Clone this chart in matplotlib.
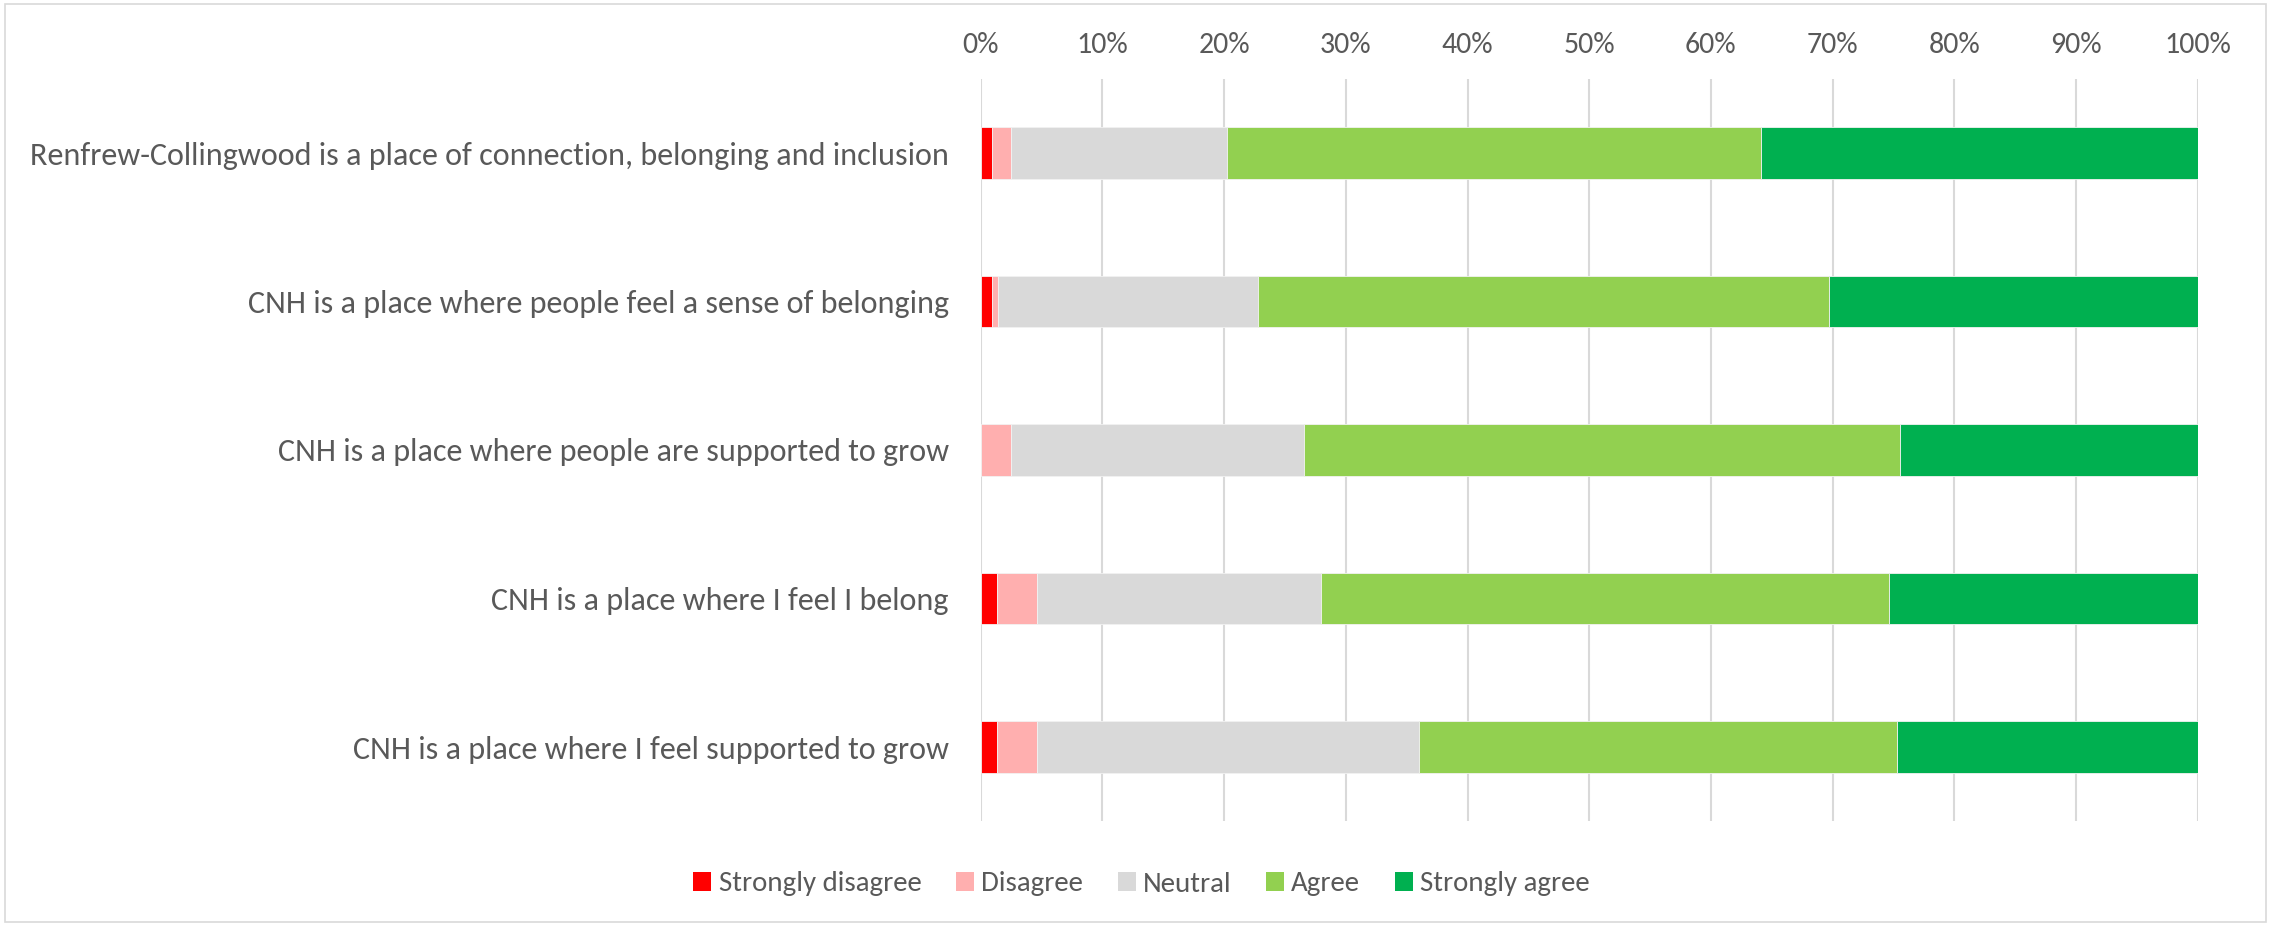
import matplotlib
matplotlib.use("Agg")
import matplotlib.pyplot as plt
from matplotlib import font_manager
from matplotlib.patches import Rectangle, Patch

# ---------------- data ----------------
categories = [
    "Renfrew-Collingwood is a place of connection, belonging and inclusion",
    "CNH is a place where people feel a sense of belonging",
    "CNH is a place where people are supported to grow",
    "CNH is a place where I feel I belong",
    "CNH is a place where I feel supported to grow",
]
series_names = ["Strongly disagree", "Disagree", "Neutral", "Agree", "Strongly agree"]
strongly_disagree = [0.9, 0.9, 0.0, 1.3, 1.3]
disagree = [1.6, 0.5, 2.5, 3.3, 3.3]
neutral = [17.7, 21.4, 24.1, 23.4, 31.4]
agree = [43.9, 46.9, 48.9, 46.6, 39.3]
strongly_agree = [35.9, 30.3, 24.5, 25.4, 24.7]
x_ticks = [0, 10, 20, 30, 40, 50, 60, 70, 80, 90, 100]
x_tick_labels = [f"{v}%" for v in x_ticks]

colors = ["#FF0000", "#FFAFAF", "#D9D9D9", "#92D050", "#00B050"]
text_color = "#595959"
grid_color = "#D9D9D9"

# ---------------- font ----------------
available = {f.name for f in font_manager.fontManager.ttflist}
font = "DejaVu Sans"
for cand in ["Carlito", "Lato", "Open Sans", "Liberation Sans"]:
    if cand in available:
        font = cand
        break
plt.rcParams["font.family"] = [font, "DejaVu Sans"]

W, H, DPI = 2272, 925, 100
fig = plt.figure(figsize=(W / DPI, H / DPI), dpi=DPI)
fig.patch.set_facecolor("white")

# fit category font size so that the longest label spans ~920 px
renderer = fig.canvas.get_renderer()
probe = fig.text(0, 0, categories[0], fontsize=20)
w20 = probe.get_window_extent(renderer=renderer).width
probe.remove()
fs_cat = 20 * 920.0 / w20
fs_tick = 21.5
fs_leg = 20.8

# axes placement (pixels from the reference)
x0, x1 = 980.7, 2197.7
y_top, y_bot = 78.75, 821.25
ax = fig.add_axes([x0 / W, 1 - y_bot / H, (x1 - x0) / W, (y_bot - y_top) / H])

ypos = list(range(len(categories)))
series = [strongly_disagree, disagree, neutral, agree, strongly_agree]
left = [0.0] * len(categories)
for name, vals, col in zip(series_names, series, colors):
    ax.barh(ypos, vals, left=left, height=0.35, color=col, edgecolor="#F2F2F2",
            linewidth=0.6, label=name, zorder=3)
    left = [a + b for a, b in zip(left, vals)]

ax.set_xlim(0, 100)
ax.set_ylim(len(categories) - 0.5, -0.5)
ax.set_yticks(ypos)
ax.set_yticklabels(categories, fontsize=fs_cat, color=text_color)
ax.set_xticks(x_ticks)
ax.set_xticklabels(x_tick_labels, fontsize=fs_tick, color=text_color)
ax.xaxis.tick_top()
ax.tick_params(axis="x", length=0, pad=15)
ax.tick_params(axis="y", length=0, pad=23)
for s in ax.spines.values():
    s.set_visible(False)
ax.xaxis.grid(True, color=grid_color, linewidth=1.5, zorder=0)
ax.yaxis.grid(False)
ax.set_axisbelow(True)

# legend
handles = [Patch(facecolor=c, edgecolor="none") for c in colors]
leg = fig.legend(handles, series_names, loc="center", bbox_to_anchor=(1141.5 / W, 1 - 884 / H),
                 ncol=5, frameon=False, fontsize=fs_leg, handlelength=0.62, handleheight=0.62,
                 handletextpad=0.25, columnspacing=1.2, borderpad=0)
for t in leg.get_texts():
    t.set_color(text_color)

# chart border
fig.add_artist(Rectangle((4.5 / W, 1 - 921.5 / H), (2265.5 - 4.5) / W, (921.5 - 4) / H,
                         transform=fig.transFigure, fill=False, edgecolor=grid_color,
                         linewidth=1.2))

fig.savefig("out.png", dpi=DPI, facecolor="white")
